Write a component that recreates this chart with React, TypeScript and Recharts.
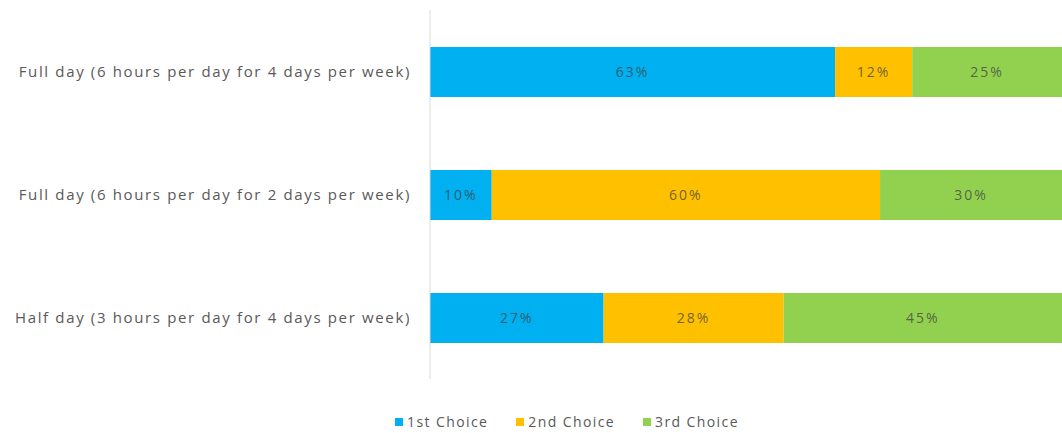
import { BarChart, Bar, XAxis, YAxis, Legend, LabelList } from "recharts";

const categories = [
  "Full day (6 hours per day for 4 days per week)",
  "Full day (6 hours per day for 2 days per week)",
  "Half day (3 hours per day for 4 days per week)",
];
const firstChoice = [63, 9.6, 27];
const secondChoice = [12, 60.4, 28];
const thirdChoice = [25, 30, 45];

const seriesNames = ["1st Choice", "2nd Choice", "3rd Choice"];
const colors = ["#00b0f0", "#ffc000", "#92d050"];

const data = categories.map((name, i) => ({
  name,
  first: firstChoice[i],
  second: secondChoice[i],
  third: thirdChoice[i],
}));

const FONT = "'Open Sans', 'Noto Sans', sans-serif";
const pct = (v: any) => `${Math.round(Number(v))}%`;
const labelStyle = {
  fill: "#404040",
  fillOpacity: 0.75,
  fontSize: 14,
  letterSpacing: 2,
  fontFamily: FONT,
};

const LegendContent = ({ payload }: { payload?: any[] }) => (
  <div style={{ display: "flex", justifyContent: "center", fontFamily: FONT, fontSize: 14, color: "#595959", letterSpacing: 1.4 }}>
    {(payload || []).map((p, i) => (
      <div key={i} style={{ display: "flex", alignItems: "center", marginRight: i < 2 ? 28 : 0 }}>
        <span style={{ display: "inline-block", width: 8, height: 8, background: p.color, marginRight: 4 }} />
        <span>{p.value}</span>
      </div>
    ))}
  </div>
);

export default function App() {
  return (
    <div style={{ position: "absolute", left: 0, top: 0, width: 1062, height: 433, background: "#fff", overflow: "hidden" }}>
      <BarChart
        width={1062}
        height={433}
        data={data}
        layout="vertical"
        barSize={50}
        margin={{ top: 10, right: 0, left: 0, bottom: 35 }}
      >
        <XAxis type="number" domain={[0, 98.3]} allowDataOverflow hide />
        <YAxis
          type="category"
          dataKey="name"
          width={430}
          tickLine={false}
          tickSize={0}
          tickMargin={19}
          axisLine={{ stroke: "#d9d9d9" }}
          tick={{ fontSize: 15, fill: "#595959", fontFamily: FONT, letterSpacing: 1.65 }}
        />
        <Legend
          verticalAlign="bottom"
          content={<LegendContent />}
          wrapperStyle={{ left: 36, width: 1062, bottom: 2 }}
        />
        <Bar dataKey="first" name={seriesNames[0]} stackId="a" fill={colors[0]} isAnimationActive={false}>
          <LabelList dataKey="first" position="center" formatter={pct} style={labelStyle} />
        </Bar>
        <Bar dataKey="second" name={seriesNames[1]} stackId="a" fill={colors[1]} isAnimationActive={false}>
          <LabelList dataKey="second" position="center" formatter={pct} style={labelStyle} />
        </Bar>
        <Bar dataKey="third" name={seriesNames[2]} stackId="a" fill={colors[2]} isAnimationActive={false}>
          <LabelList dataKey="third" position="center" formatter={pct} style={labelStyle} />
        </Bar>
      </BarChart>
    </div>
  );
}
